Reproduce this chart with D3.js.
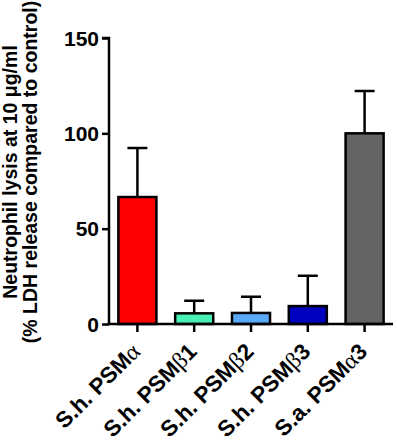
<!DOCTYPE html>
<html><head><meta charset="utf-8">
<script src="https://cdn.jsdelivr.net/npm/d3@7"></script>
<style>body{margin:0;background:#fff}svg{display:block}text{font-family:"Liberation Sans",Arial,sans-serif;font-weight:bold;fill:#000}</style>
</head><body>
<script>
const categories = [["S.h. PSM","α"],["S.h. PSM","β1"],["S.h. PSM","β2"],["S.h. PSM","β3"],["S.a. PSM","α3"]];
const means = [66.6, 5.6, 5.8, 9.4, 100];
const errUpper = [92.3, 12.2, 14.3, 25.3, 122.2];
const colors = ["#ff0000","#48f0b4","#5aa8f8","#0000c0","#646464"];
const yTicks = [0, 50, 100, 150];
const yTitle = ["Neutrophil lysis at 10 μg/ml", "(% LDH release compared to control)"];

const W = 397, H = 446;
const svg = d3.select("body").append("svg").attr("width", W).attr("height", H);
const x = d3.scaleBand().domain(d3.range(categories.length)).range([109, 393]).paddingInner(0.33).paddingOuter(0.165);
const y = d3.scaleLinear().domain([0, 150]).range([324, 38]);

const g = svg.append("g");
g.selectAll("rect.bar").data(means).join("rect").attr("class","bar")
  .attr("x", (d,i)=>x(i)).attr("width", x.bandwidth())
  .attr("y", d=>y(d)).attr("height", d=>y(0)-y(d))
  .attr("fill", (d,i)=>colors[i]).attr("stroke","#000").attr("stroke-width",2.5);
const cap = 10;
errUpper.forEach((e,i)=>{
  const cx = x(i)+x.bandwidth()/2;
  g.append("line").attr("x1",cx).attr("x2",cx).attr("y1",y(means[i])).attr("y2",y(e)).attr("stroke","#000").attr("stroke-width",2.5);
  g.append("line").attr("x1",cx-cap).attr("x2",cx+cap).attr("y1",y(e)).attr("y2",y(e)).attr("stroke","#000").attr("stroke-width",2.5);
});
const ya = svg.append("g").attr("transform","translate(109,0)")
  .call(d3.axisLeft(y).tickValues(yTicks).tickSize(7).tickPadding(3));
ya.select(".domain").attr("stroke-width",2.5).attr("d", `M-7,${y(150)}H0V${y(0)}`);
ya.selectAll(".tick line").attr("stroke-width",2.5);
ya.selectAll(".tick text").attr("font-size",21).attr("font-family",'"Liberation Sans",Arial,sans-serif').attr("font-weight","bold").attr("fill","#000").attr("dy","0.34em");
const xa = svg.append("g").attr("transform",`translate(0,${y(0)})`)
  .call(d3.axisBottom(x).tickSize(8).tickFormat(""));
xa.select(".domain").attr("stroke-width",2.5).attr("d", `M107.75,0H393`);
xa.selectAll(".tick line").attr("stroke-width",2.5);
const labels = svg.append("g").attr("class","xlabels");
categories.forEach((c,i)=>{
  const ex = x(i)+x.bandwidth()/2+4, ey = 353;
  const t = labels.append("text").attr("transform",`translate(${ex},${ey}) rotate(-45)`)
    .attr("text-anchor","end").attr("font-size",22.5);
  t.append("tspan").text(c[0]);
  t.append("tspan").attr("font-weight","normal").attr("font-family",'"Liberation Serif",serif').attr("font-size",23.5).text(c[1].charAt(0));
  if (c[1].length>1) t.append("tspan").text(c[1].slice(1));
});
const yt = svg.append("text").attr("transform","translate(0,172) rotate(-90)").attr("text-anchor","middle").attr("font-size",19.5);
yt.append("tspan").attr("x",0).attr("y",17).text(yTitle[0]);
yt.append("tspan").attr("x",0).attr("y",37).text(yTitle[1]);
</script>
</body></html>
